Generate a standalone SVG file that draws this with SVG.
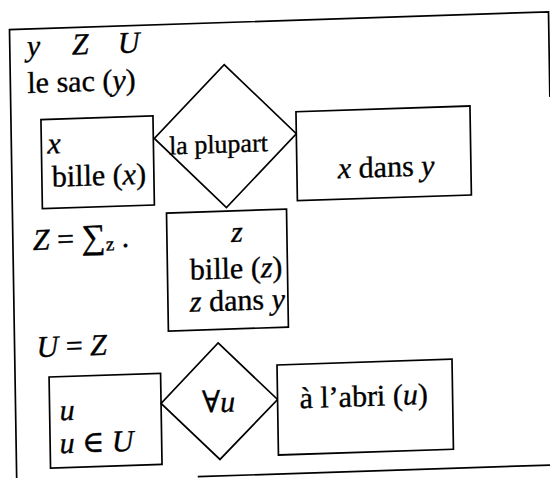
<svg xmlns="http://www.w3.org/2000/svg" width="550" height="478" viewBox="0 0 550 478">
<style>
.ln{fill:none;stroke:#000;stroke-width:1.7}
.sh{fill:#fff;stroke:#000;stroke-width:1.7}
text{font-family:"Liberation Serif","DejaVu Serif",serif;font-size:30px;fill:#000;stroke:#000;stroke-width:0.35}
.i{font-style:italic}
.sm{font-size:26px}
.c{text-anchor:middle}
</style>
<rect width="550" height="478" fill="#fff"/>
<g transform="translate(275 240) matrix(1 -0.033 0.016 1 0 0) translate(-275 -240)">
<g id="frame">
<path class="ln" d="M13,490 V21 H552 V106"/>
<path class="ln" d="M194,474 H560"/>
</g>
<g id="connectors"/>
<g id="header">
<text x="30" y="48" class="i">y</text>
<text x="75" y="48" class="i">Z</text>
<text x="121" y="48" class="i">U</text>
<text x="30" y="85">le sac (<tspan class="i">y</tspan>)</text>
</g>
<g id="node-bille-x">
<rect class="sh" x="43" y="112" width="112" height="89"/>
<text x="49" y="146" class="i">x</text>
<text x="53" y="179.5">bille (<tspan class="i">x</tspan>)</text>
</g>
<g id="node-la-plupart">
<polygon class="sh" points="227,63 298,134.5 227,206 156,134.5"/>
<text x="220" y="151" class="sm c">la plupart</text>
</g>
<g id="node-x-dans-y">
<rect class="sh" x="298" y="112.5" width="174" height="89"/>
<text x="339" y="180.5"><tspan class="i">x</tspan> dans <tspan class="i">y</tspan></text>
</g>
<g id="sum">
<text x="33" y="242"><tspan class="i">Z</tspan> = <tspan font-size="34">∑</tspan><tspan font-size="19" dy="3">z</tspan><tspan dy="-3"> .</tspan></text>
</g>
<g id="node-bille-z">
<rect class="sh" x="167" y="209.5" width="120" height="118"/>
<text x="237" y="240.5" class="i c">z</text>
<text x="189.5" y="277">bille (<tspan class="i">z</tspan>)</text>
<text x="189" y="309"><tspan class="i">z</tspan> dans <tspan class="i">y</tspan></text>
</g>
<g id="eq-U-Z">
<text x="35" y="349"><tspan class="i">U</tspan> = <tspan class="i">Z</tspan></text>
</g>
<g id="node-u">
<rect class="sh" x="47" y="369.5" width="111.5" height="91"/>
<text x="57" y="413" class="i">u</text>
<text x="56.5" y="446"><tspan class="i">u</tspan> ∈ <tspan class="i">U</tspan></text>
</g>
<g id="node-forall-u">
<polygon class="sh" points="216.5,341 275,399.5 216.5,457.5 158.5,399.5"/>
<text x="216" y="410" class="c">∀<tspan class="i">u</tspan></text>
</g>
<g id="node-a-l-abri">
<rect class="sh" x="275" y="365" width="175" height="90"/>
<text x="297" y="409">à l’abri (<tspan class="i">u</tspan>)</text>
</g>
</g>
</svg>
